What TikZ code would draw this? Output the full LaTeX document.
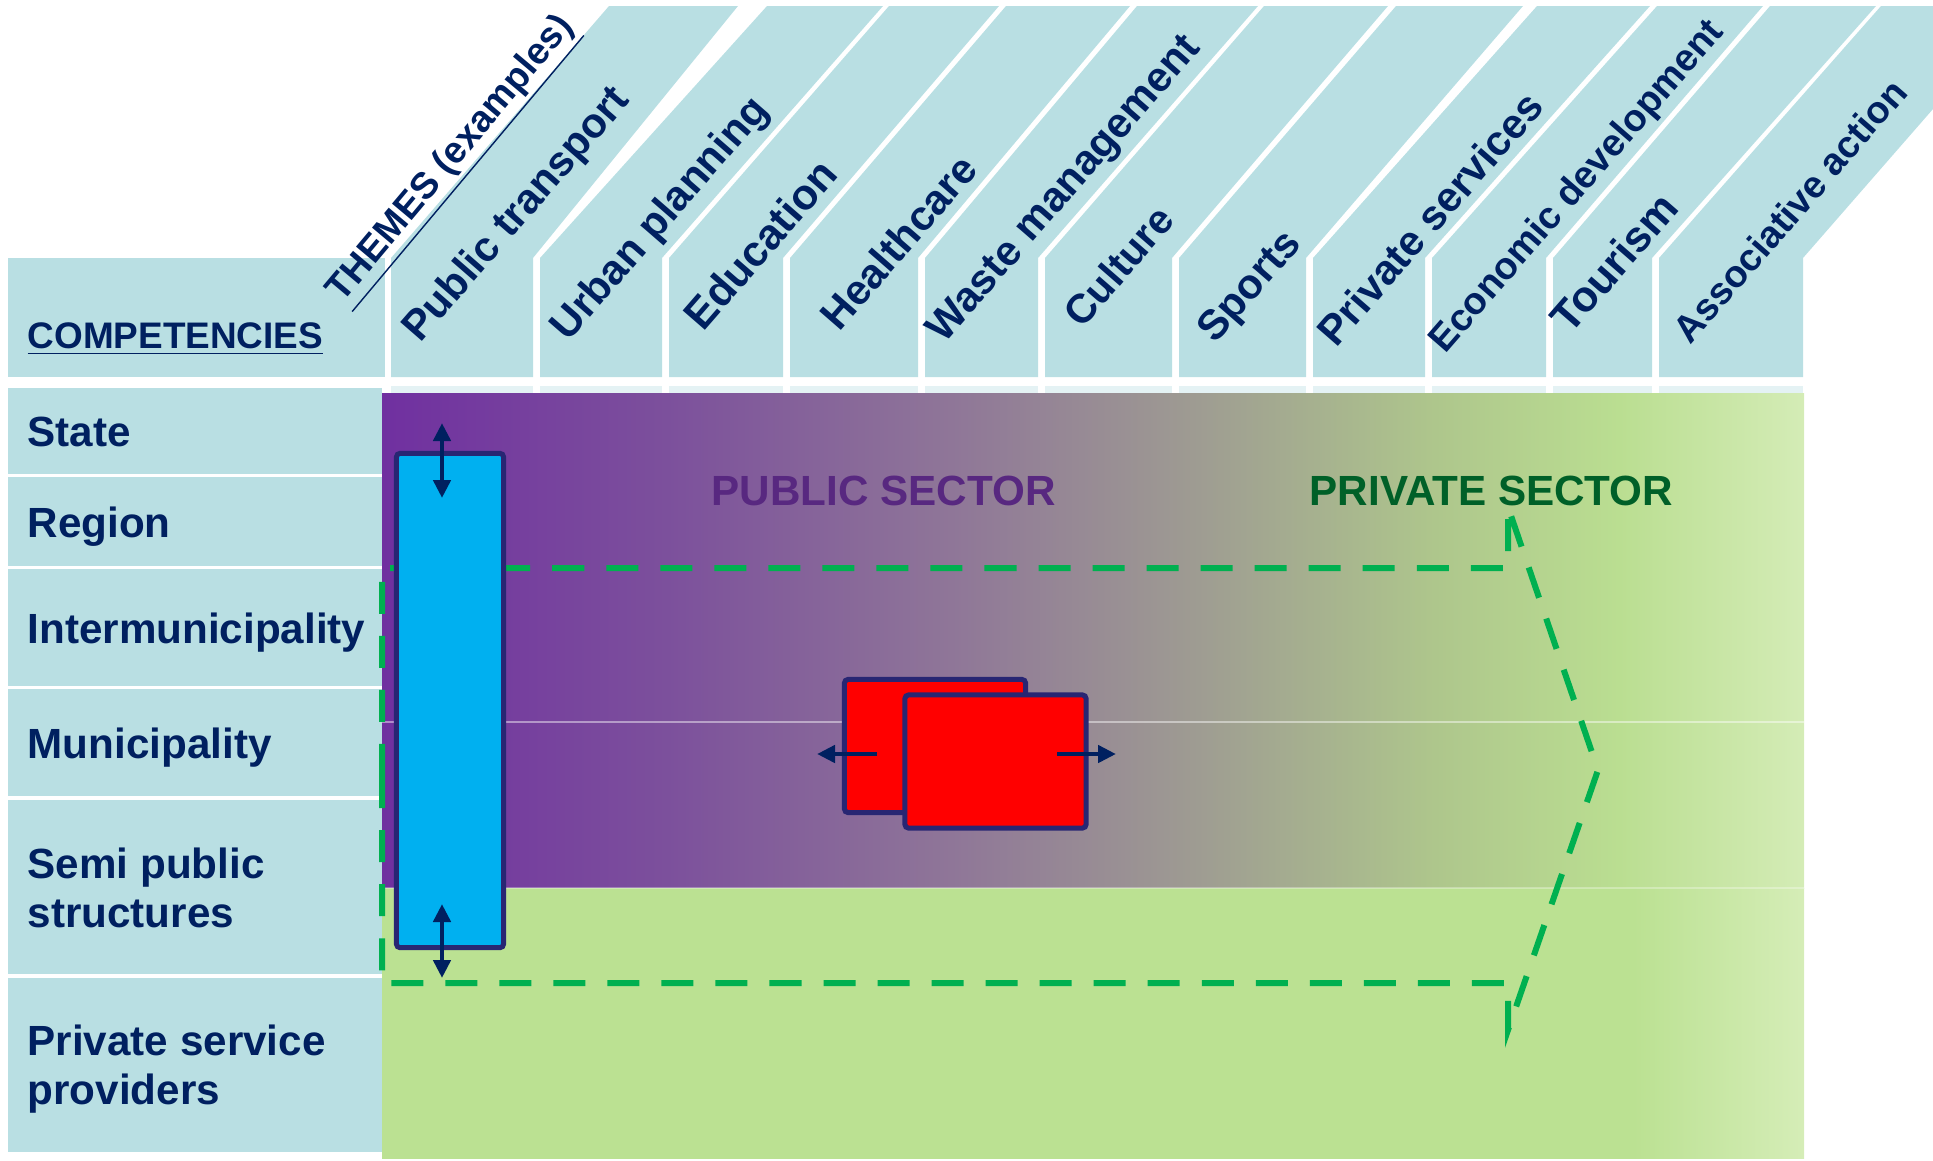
\documentclass[tikz,border=0pt]{standalone}
\usepackage{fontspec}
\setsansfont{Liberation Sans}
\usetikzlibrary{arrows,arrows.meta,positioning}

\definecolor{headblue}{RGB}{185,223,227}
\definecolor{striplight}{RGB}{228,242,244}
\definecolor{navy}{RGB}{0,32,96}
\definecolor{boxline}{RGB}{40,38,115}
\definecolor{ptblue}{RGB}{0,176,240}
\definecolor{dashgreen}{RGB}{0,176,80}
\definecolor{pubtext}{RGB}{88,40,128}
\definecolor{privtext}{RGB}{0,96,40}
\definecolor{pp0}{RGB}{112,48,160}
\definecolor{pp1}{RGB}{124,80,156}
\definecolor{pp2}{RGB}{143,118,152}
\definecolor{pp3}{RGB}{158,155,146}
\definecolor{pp4}{RGB}{174,198,140}
\definecolor{pp5}{RGB}{186,222,145}
\definecolor{pp6}{RGB}{212,236,182}
\definecolor{lg}{RGB}{187,225,146}
\definecolor{lgl}{RGB}{213,237,183}

\pgfdeclarehorizontalshading{pubpriv}{100bp}{color(0bp)=(pp0); color(25bp)=(pp0); color(35bp)=(pp1); color(45bp)=(pp2); color(53.5bp)=(pp3); color(62bp)=(pp4); color(68.5bp)=(pp5); color(75bp)=(pp6); color(100bp)=(pp6)}
\pgfdeclarehorizontalshading{privband}{100bp}{color(0bp)=(lg); color(25bp)=(lg); color(69bp)=(lg); color(75bp)=(lgl); color(100bp)=(lgl)}

\begin{document}
\begin{tikzpicture}[x=0.01cm,y=-0.01cm]
    \tikzstyle{head}=[fill=headblue]
    \tikzstyle{strip}=[fill=striplight]
    \tikzstyle{rowname}=[anchor=base west,inner sep=0pt,text=navy,font={\sffamily\bfseries\fontsize{12}{14.2}\selectfont}]
    \tikzstyle{theme}=[anchor=base west,rotate=49,inner sep=0pt,text=navy,font={\sffamily\bfseries\fontsize{11.9}{14}\selectfont}]
    \tikzstyle{sector}=[anchor=base west,inner sep=0pt,font={\sffamily\bfseries\fontsize{12}{14}\selectfont}]

    \tikzstyle{pt}=[rectangle,draw=boxline,line width=0.05cm,fill=ptblue,rounded corners=1pt,inner sep=0pt,minimum width=1.07cm,minimum height=4.94cm]  % blue bar
    \tikzstyle{op}=[rectangle,draw=boxline,line width=0.05cm,fill=red,rounded corners=1pt,inner sep=0pt,minimum width=1.81cm,minimum height=1.33cm]  % red boxes
    \tikzstyle{move}=[navy,line width=0.045cm,>={Triangle[length=0.18cm,width=0.17cm]}]
    \tikzstyle{reach}=[dashgreen,line width=0.06cm,dash pattern=on 0.32cm off 0.22cm]

    \useasboundingbox (0,0) rectangle (1933,1160);

    % header
    \fill[head] (8,258) rectangle (385,377);
    \node[rowname,font={\sffamily\bfseries\fontsize{10.5}{12}\selectfont}] (comp) at (27,348) {\underline{COMPETENCIES}};

    % theme columns
    \fill[head] (391,377) -- (391,258) -- (609,6) -- (738,6) -- (533,258) -- (533,377) -- cycle;
    \fill[head] (540,377) -- (540,258) -- (767,6) -- (883,6) -- (662,258) -- (662,377) -- cycle;
    \fill[head] (669,377) -- (669,258) -- (889,6) -- (999,6) -- (783,258) -- (783,377) -- cycle;
    \fill[head] (790,377) -- (790,258) -- (1006,6) -- (1130,6) -- (918,258) -- (918,377) -- cycle;
    \fill[head] (925,377) -- (925,258) -- (1137,6) -- (1258,6) -- (1038,258) -- (1038,377) -- cycle;
    \fill[head] (1045,377) -- (1045,258) -- (1264,6) -- (1388,6) -- (1172,258) -- (1172,377) -- cycle;
    \fill[head] (1179,377) -- (1179,258) -- (1396,6) -- (1523,6) -- (1306,258) -- (1306,377) -- cycle;
    \fill[head] (1313,377) -- (1313,258) -- (1537,6) -- (1650,6) -- (1425,258) -- (1425,377) -- cycle;
    \fill[head] (1432,377) -- (1432,258) -- (1657,6) -- (1763,6) -- (1546,258) -- (1546,377) -- cycle;
    \fill[head] (1553,377) -- (1553,258) -- (1770,6) -- (1876,6) -- (1652,258) -- (1652,377) -- cycle;
    \fill[head] (1659,377) -- (1659,258) -- (1881,6) -- (1933,6) -- (1933,109) -- (1803,258) -- (1803,377) -- cycle;

    \fill[strip] (391,386) rectangle (533,394);
    \fill[strip] (540,386) rectangle (662,394);
    \fill[strip] (669,386) rectangle (783,394);
    \fill[strip] (790,386) rectangle (918,394);
    \fill[strip] (925,386) rectangle (1038,394);
    \fill[strip] (1045,386) rectangle (1172,394);
    \fill[strip] (1179,386) rectangle (1306,394);
    \fill[strip] (1313,386) rectangle (1425,394);
    \fill[strip] (1432,386) rectangle (1546,394);
    \fill[strip] (1553,386) rectangle (1652,394);
    \fill[strip] (1659,386) rectangle (1803,394);

    \node[theme,rotate=1,font={\sffamily\bfseries\fontsize{10.6}{12}\selectfont}] (themes) at (342,304) {\underline{THEMES (examples)}};
    \node[theme] (transp) at (420,344) {Public transport};
    \node[theme] (urban) at (568,343) {Urban planning};
    \node[theme,font={\sffamily\bfseries\fontsize{12.2}{14}\selectfont}] (educ) at (703,333) {Education};
    \node[theme] (health) at (839,333) {Healthcare};
    \node[theme] (waste) at (944,345) {Waste management};
    \node[theme,font={\sffamily\bfseries\fontsize{11.6}{14}\selectfont}] (culture) at (1082,330) {Culture};
    \node[theme] (sports) at (1215,345) {Sports};
    \node[theme] (privserv) at (1336,349) {Private services};
    \node[theme,font={\sffamily\bfseries\fontsize{10.8}{13}\selectfont}] (econ) at (1445,355) {Economic development};
    \node[theme,font={\sffamily\bfseries\fontsize{12.3}{14}\selectfont}] (tourism) at (1570,336) {Tourism};
    \node[theme,font={\sffamily\bfseries\fontsize{10.8}{13}\selectfont}] (assoc) at (1690,346) {Associative action};

    % competency rows
    \fill[head] (8,388) rectangle (382,474);
    \fill[head] (8,477) rectangle (382,566);
    \fill[head] (8,569) rectangle (382,686);
    \fill[head] (8,689) rectangle (382,796);
    \fill[head] (8,800) rectangle (382,974);
    \fill[head] (8,978) rectangle (382,1152);

    \node[rowname] (state) at (27,446) {State};
    \node[rowname] (region) at (27,537) {Region};
    \node[rowname] (inter) at (27,643) {Intermunicipality};
    \node[rowname] (muni) at (27,758) {Municipality};
    \node[rowname] (semi) at (27,878) {\begin{tabular}[t]{@{}l@{}}Semi public\\structures\end{tabular}};
    \node[rowname] (provider) at (27,1055) {\begin{tabular}[t]{@{}l@{}}Private service\\providers\end{tabular}};

    % public / private field
    \shade[shading=pubpriv] (382,393) rectangle (1804,888);
    \shade[shading=privband] (382,888) rectangle (1804,1158);
    \draw[white,opacity=.45,line width=0.5pt] (382,722) -- (1804,722);
    \draw[white,opacity=.3,line width=0.4pt] (382,888) -- (1804,888);

    \node[sector,text=pubtext] (public) at (711,505) {PUBLIC SECTOR};
    \node[sector,text=privtext] (private) at (1309,505) {PRIVATE SECTOR};

    % dashed arrow
    \draw[reach] (382,776) -- (382,568) -- (1508,568) -- (1508,507) -- (1598,770) -- (1508,1030) -- (1508,983) -- (382,983) -- cycle;

    \node[pt] (bar) at (450,700.5) {};
    \node[op] (opback) at (935,746) {};
    \node[op] (opfront) at (995.5,761.5) {};

    \coordinate (bartop1) at (442,423);
    \coordinate (bartop2) at (442,498);
    \coordinate (barbot1) at (442,904);
    \coordinate (barbot2) at (442,978);
    \coordinate (opl1) at (877,754);
    \coordinate (opl2) at (817,754);
    \coordinate (opr1) at (1057,754);
    \coordinate (opr2) at (1116,754);

    \draw[move,<->] (bartop1) -- (bartop2);
    \draw[move,<->] (barbot1) -- (barbot2);
    \draw[move,->] (opl1) -- (opl2);
    \draw[move,->] (opr1) -- (opr2);
\end{tikzpicture}
\end{document}
